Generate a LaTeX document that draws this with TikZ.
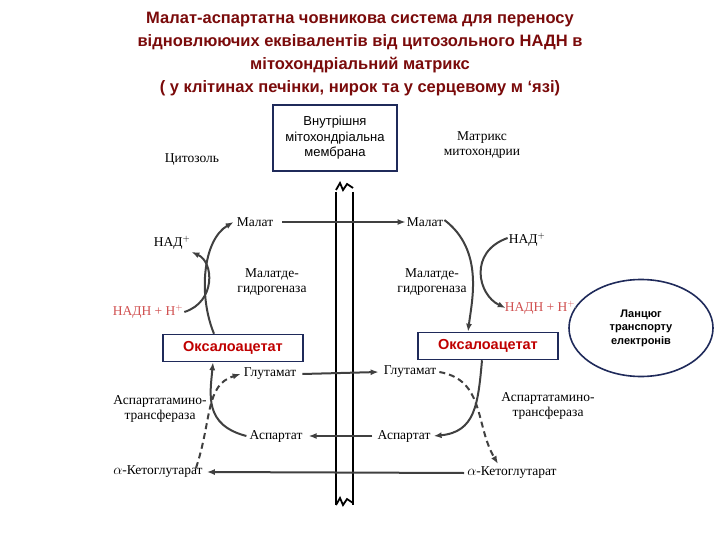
\documentclass[tikz,border=0pt]{standalone}
\usepackage{fontspec}
\setmainfont{Liberation Serif}
\newfontfamily\sansf{Liberation Sans}
\usetikzlibrary{arrows.meta,shapes.geometric}
\definecolor{ttl}{HTML}{7A0A0A}
\definecolor{bx}{HTML}{1F2A5A}
\definecolor{oaa}{HTML}{C00000}
\definecolor{nadh}{HTML}{D05050}
\begin{document}
\begin{tikzpicture}[x=1pt,y=-1pt,
 lbl/.style={font=\fontsize{13.5}{15}\selectfont, inner sep=1pt, align=center},
 oaabox/.style={draw=bx, line width=1.5pt, fill=white, font=\sansf\bfseries\fontsize{14.5}{16}\selectfont, text=oaa, minimum width=140pt, minimum height=27pt},
 arr/.style={line width=2pt, draw=black!75, -{Latex[length=8pt,width=6pt]}},
 darr/.style={arr, dash pattern=on 6pt off 4pt},
 mem/.style={line width=1.8pt}]
\useasboundingbox (0,0) rectangle (720,540);
\node[font=\sansf\bfseries\fontsize{16.5}{23}\selectfont, text=ttl, align=center] (title) at (360,54) {Малат-аспартатна човникова система  для переносу\\відновлюючих еквівалентів від цитозольного НАДН в\\мітохондріальний матрикс\\( у клітинах печінки, нирок та у серцевому   м ‘язі)};
% membrane
\draw[mem] (336,192) -- (336,505) (353,192) -- (353,505);
\draw[mem] (336,190) -- (340,183) -- (343,190) -- (347,184) -- (353,188);
\draw[mem] (336,505) -- (340,498) -- (343,505) -- (347,499) -- (353,503);
\node[draw=bx, fill=white, line width=1.2pt, font=\sansf\fontsize{13}{15.5}\selectfont, align=center, minimum width=124pt, minimum height=66pt] (memb) at (335,138) {Внутрішня\\мітохондріальна\\мембрана};
\node[lbl] (cyt) at (192,160) {Цитозоль};
\node[lbl] (mtx) at (482,145) {Матрикс\\митохондрии};
% left
\node[lbl] (lmal) at (255,222) {Малат};
\node[lbl] (lnad) at (172,243) {НАД$^{+}$};
\node[lbl] (lmdh) at (272,282) {Малатде-\\гидрогеназа};
\node[lbl, text=nadh] (lnadh) at (148,312) {НАДН + Н$^{+}$};
\node[oaabox] (loaa) at (233,348) {Оксалоацетат};
\node[lbl] (lglu) at (270,374) {Глутамат};
\node[lbl] (last) at (160,409) {Аспартатамино-\\трансфераза};
\node[lbl] (lasp) at (276,436) {Аспартат};
\node[lbl] (lakg) at (158,472) {$\alpha$-Кетоглутарат};
% right
\node[lbl] (rmal) at (425,222) {Малат};
\node[lbl] (rnad) at (527,240) {НАД$^{+}$};
\node[lbl] (rmdh) at (432,282) {Малатде-\\гидрогеназа};
\node[lbl, text=nadh] (rnadh) at (540,308) {НАДН + Н$^{+}$};
\node[oaabox] (roaa) at (488,346) {Оксалоацетат};
\node[lbl] (rglu) at (410,372) {Глутамат};
\node[lbl] (rast) at (548,406) {Аспартатамино-\\трансфераза};
\node[lbl] (rasp) at (404,436) {Аспартат};
\node[lbl] (rakg) at (512,473) {$\alpha$-Кетоглутарат};
\node[draw=bx, line width=1.6pt, ellipse, minimum width=144pt, minimum height=97pt, font=\sansf\bfseries\fontsize{11}{13.5}\selectfont, align=center] (etc) at (641,328) {Ланцюг\\транспорту\\електронів};
\draw[gray, line width=0.8pt] (rnadh.east) -- (etc);
% transport arrows
\draw[arr] ([xshift=8pt]lmal.east) -- (rmal.west);
\draw[arr] ([xshift=5pt]lglu.east) -- ([xshift=-4pt]rglu.west);
\draw[arr] ([xshift=-4pt]rasp.west) -- ([xshift=5pt]lasp.east);
\draw[arr] ([xshift=-2pt]rakg.west) -- ([xshift=3pt]lakg.east);
% left curves
\draw[arr] (loaa.north -| 214,0) .. controls (198,295) and (203,240) .. ([xshift=-2pt]lmal.west);
\draw[arr] (lnadh.east) .. controls (216,302) and (214,262) .. ([yshift=-1pt]lnad.south east);
\draw[arr] ([xshift=-2pt]lasp.west) .. controls (204,425) and (210,395) .. (loaa.south -| 213,0);
\draw[darr] ([yshift=-3pt]lakg.north -| 196,0) .. controls (212,420) and (205,385) .. ([xshift=-2pt]lglu.west);
% right curves
\draw[arr] ([yshift=2pt]rmal.east) .. controls (484,250) and (472,300) .. (roaa.north -| 468,0);
\draw[arr] ([yshift=2pt]rnad.west) .. controls (468,252) and (478,295) .. ([xshift=2pt]rnadh.west);
\draw[arr] (roaa.south -| 482,0) .. controls (478,405) and (475,432) .. ([xshift=2pt]rasp.east);
\draw[darr] ([xshift=2pt]rglu.east) .. controls (485,380) and (475,425) .. ([yshift=2pt]rakg.north -| 498,0);
\end{tikzpicture}
\end{document}
